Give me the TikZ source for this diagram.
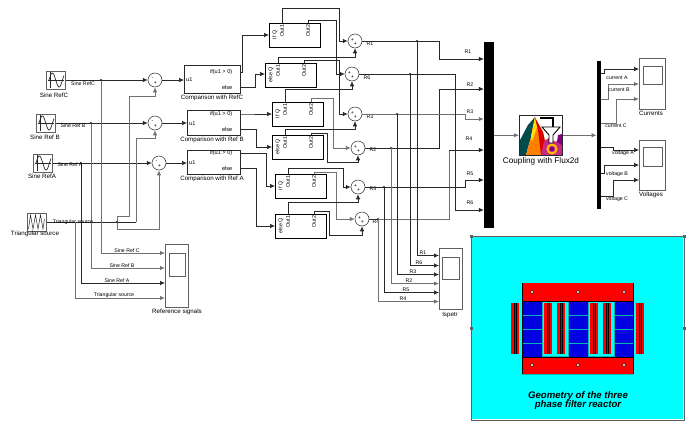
\documentclass[tikz,border=0pt]{standalone}
\usepackage{fontspec}
\setmainfont{Liberation Sans}
\usetikzlibrary{calc, arrows.meta}
\definecolor{sigdark}{HTML}{282828}
\definecolor{siggray}{HTML}{707070}
\definecolor{blockedge}{HTML}{606060}
\definecolor{coreblue}{HTML}{0000E0}
\definecolor{corered}{HTML}{FF0000}
\definecolor{coilred}{HTML}{C00000}
\definecolor{bgcyan}{HTML}{00FFFF}
\definecolor{edgeteal}{HTML}{00B8B8}

\begin{document}
\begin{tikzpicture}[
    x=1pt, y=-1pt,
    >={Latex[length=5pt, width=4.5pt]},
    sig/.style={line width=0.7pt, sigdark},
    sigg/.style={line width=0.9pt, siggray},
    plainblock/.style={draw=sigdark, line width=0.5pt, fill=white, inner sep=0pt, anchor=north west},
    scopeblock/.style={draw=blockedge, line width=0.7pt, fill=white, inner sep=0pt, anchor=north west},
    srcblock/.style={draw=blockedge, line width=1pt, fill=white, inner sep=0pt, minimum width=19pt, minimum height=18pt},
    ssblock/.style={draw=black, line width=1.3pt, fill=white, inner sep=0pt, anchor=north west, minimum width=51pt, minimum height=24pt},
    sumblock/.style={circle, draw=sigdark, line width=0.5pt, fill=white, inner sep=0pt, minimum size=14pt},
    busbar/.style={fill=black, inner sep=0pt},
    lbl/.style={font=\fontsize{5.2}{6}\selectfont, inner sep=0pt},
    blk/.style={font=\fontsize{5.6}{6}\selectfont, inner sep=0pt},
    captxt/.style={font=\fontsize{6.2}{7}\selectfont, inner sep=0pt},
    vtxt/.style={font=\fontsize{5.4}{6}\selectfont, inner sep=0pt, rotate=90},
    jdot/.style={circle, fill=sigdark, inner sep=0pt, minimum size=2.4pt}
]
\useasboundingbox (0,0) rectangle (691,421);

% Sine sources
\foreach \n/\x/\y/\capt/\cx/\cy in {C/56/80/Sine RefC/54/95, B/46/123/Sine Ref B/45/137, A/43/163/Sine RefA/42/176}{
    \node[srcblock] (src\n) at (\x,\y) {};
    \node[captxt] (src\n cap) at (\cx,\cy) {\capt};
    \begin{scope}[shift={(src\n.center)}]
        \draw[line width=0.4pt, sigdark] (-6,-8) -- (-6,8) (-8,0) -- (8,0);
        \draw[line width=0.7pt, sigdark, domain=0:400, samples=30, variable=\t] plot ({\t/400*15-7},{-7*sin(\t)});
    \end{scope}
}

% Triangular source
\node[srcblock] (srcT) at (36.5,222) {};
\node[captxt] (srcTcap) at (35,234) {Triangular source};
\draw[line width=0.5pt, sigdark, shift={(srcT.center)}] (-8,7) -- (-6,-7) -- (-3.5,7) -- (-1,-7) -- (1.5,7) -- (4,-7) -- (6.5,7) -- (8,-3);

% Sum blocks
\foreach \n/\x/\y/\s in {C/155/80/-, B/155/123/-, A/159/163/-, R1/355/41/+, R6/352/74/+, R3/355/114/+, R2/358/148/+, R5/358/187/+, R4/362/219/+}{
    \node[sumblock] (sum\n) at (\x,\y) {};
    \node[lbl] (sign\n a) at ([shift={(-2.5,-1.5)}]sum\n.center) {\s};
    \node[lbl] (sign\n b) at ([shift={(0.5,3)}]sum\n.center) {+};
}

% Comparison blocks
\foreach \n/\x/\y/\w/\h/\capt in {C/184/79/56/28/Comparison with RefC, B/187/122.5/53/25/Comparison with Ref B, A/187/162/53/24/Comparison with Ref A}{
    \node[plainblock, anchor=west, minimum width=\w pt, minimum height=\h pt] (cmp\n) at (\x,\y) {};
    \node[blk, anchor=west] (cmp\n u) at ([shift={(2,1)}]cmp\n.west) {u1};
    \node[blk, anchor=east] (cmp\n if) at ([shift={(-8,\h/2-21)}]cmp\n.east) {if(u1 > 0)};
    \node[blk, anchor=east] (cmp\n else) at ([shift={(-8,\h/2-6)}]cmp\n.east) {else};
    \node[captxt] (cmp\n cap) at (212,{\y+\h/2+5}) {\capt};
}

% Enabled subsystems
\foreach \n/\x/\y/\txt in {A/269/23/If Q, B/265/63/else Q, D/272/102/If Q, E/272/135/else Q, F/275/174/If Q, G/275/214/else Q}{
    \node[ssblock] (ss\n) at (\x,\y) {};
    \node[vtxt] (ss\n in) at (\x+6,\y+12) {\txt};
    \node[vtxt, anchor=east] (ss\n o) at (\x+13,\y+1.5) {Out1};
    \node[vtxt, anchor=east] (ss\n p) at (\x+39,\y+1.5) {Out2};
}

% Reference signals from the sources to the sums
\coordinate (jC) at (101,80);
\coordinate (jB) at (91,123);
\coordinate (jA) at (81,163);
\coordinate (jT) at (117,222);
\coordinate (jS) at (75,222);
\draw[sig, ->] (srcC.east) -- (sumC.west);
\draw[sig, ->] (srcB.east) -- (sumB.west);
\draw[sig, ->] (srcA.east) -- (sumA.west);
\draw[sig] (srcT.east) -- (136,222);
\draw[sigg, ->] (136,222) |- (sumB.south |- 0,138) -- (sumB.south);
\draw[sigg, ->] (jT) |- (129,216) |- (sumC.south |- 0,96) -- (sumC.south);
\draw[sigg, ->] (jT) |- (sumA.south |- 0,229) -- (sumA.south);
\foreach \n in {C, B, A}{
    \draw[sig, ->] (sum\n.east) -- (sum\n.east -| cmp\n.west);
}

% Scope of the reference signals
\node[scopeblock, minimum width=23pt, minimum height=63pt] (scopeRef) at (165,244) {};
\node[scopeblock, minimum width=16pt, minimum height=23pt] (scopeRefIn) at (169,253) {};
\node[captxt] (scopeRefCap) at (177,312) {Reference signals};
\draw[sigg, ->] (jC) |- (scopeRef.west |- 0,253);
\draw[sigg, ->] (jB) |- (scopeRef.west |- 0,268);
\draw[sig, ->] (jA) |- (scopeRef.west |- 0,283);
\draw[sigg, ->] (jS) |- (scopeRef.west |- 0,298);
\foreach \c in {jC, jB, jA, jT}{
    \node[jdot] at (\c) {};
}

% Labels on the signals
\node[lbl] (lC) at (83,84) {Sine RefC};
\node[lbl] (lB) at (73,126) {Sine Ref B};
\node[lbl] (lA) at (70,165) {Sine Ref A};
\node[lbl] (lT) at (73,222) {Triangular source};
\node[lbl] (lC2) at (127,250.5) {Sine Ref C};
\node[lbl] (lB2) at (122,265.5) {Sine Ref B};
\node[lbl] (lA2) at (117,280.5) {Sine Ref A};
\node[lbl] (lT2) at (114,295.5) {Triangular source};

% Comparison to subsystem
\draw[sig, ->] (cmpC.east |- cmpCif) -- ++(2,0) |- (ssA.west |- ssAin);
\draw[sig, ->] (cmpC.east |- cmpCelse) -| (255,74) -- (ssB.west |- 0,74);
\draw[sig, ->] (cmpB.east |- cmpBif) -- ++(2,0) |- (ssD.west |- ssDin);
\draw[sig, ->] (cmpB.east |- cmpBelse) -| (256,147) -- (ssE.west |- 0,147);
\draw[sig, ->] (cmpA.east |- cmpAif) -| (266,186) -- (ssF.west |- 0,186);
\draw[sig, ->] (cmpA.east |- cmpAelse) -| (256,226) -- (ssG.west |- 0,226);

% Subsystem to sum
\draw[sig, ->] (ssAo.east |- ssA.north) |- (339,8) |- (sumR1.west);
\draw[sig, ->] (ssAp.east |- ssA.north) |- (336,20) |- (sumR6.west);
\draw[sig, ->] (ssBo.east |- ssB.north) |- (sumR1.south |- 0,57) -- (sumR1.south);
\draw[sig, ->] (ssBp.east |- ssB.north) |- (339,60) |- (sumR3.west);
\draw[sig, ->] (ssDo.east |- ssD.north) |- (sumR6.south |- 0,89) -- (sumR6.south);
\draw[sigg, ->] (ssDp.east |- ssD.north) |- (333,98) |- (sumR2.west);
\draw[sig, ->] (ssEo.east |- ssE.north) |- (sumR3.south |- 0,129) -- (sumR3.south);
\draw[sig, ->] (ssEp.east |- ssE.north) |- (327,133) |- (sumR2.south |- 0,162) -- (sumR2.south);
\draw[sig, ->] (ssFo.east |- ssF.north) |- (343,168) |- (sumR5.west);
\draw[sigg, ->] (ssFp.east |- ssF.north) |- (336,172) |- (sumR4.west);
\draw[sig, ->] (ssGo.east |- ssG.north) |- (sumR5.south |- 0,202) -- (sumR5.south);
\draw[sig, ->] (ssGp.east |- ssG.north) |- (329,211) |- (sumR4.south |- 0,235) -- (sumR4.south);

% Labels beside the sums
\foreach \n/\x/\y/\l in {a/370/44/R1, b/367/78/R6, c/370/117/R3, d/373/150/R2, e/373/189/R5, f/376/222/R4}{
    \node[lbl] (lab\n) at (\x,\y) {\l};
}

% Black bus with the six phases
\node[busbar, minimum width=10pt, minimum height=186pt] (busR) at (489,135) {};
\draw[sig, ->] (sumR1.east) -| (439,59) -- (busR.west |- 0,59);
\draw[sig, ->] (sumR2.east) -| (439,89) -- (busR.west |- 0,89);
\draw[sigg, ->] (sumR3.east) -| (465,119) -- (busR.west |- 0,119);
\draw[sig] (sumR4.east) -- (378,219);
\draw[sigg] (378,219) -| (449,150);
\draw[sig, ->] (449,150) -- (busR.west |- 0,150);
\draw[sig, ->] (sumR5.east) -| (465,180) -- (busR.west |- 0,180);
\draw[sig, ->] (sumR6.east) -| (455,210) -- (busR.west |- 0,210);
\foreach \n/\x/\y/\l in {a/468/52/R1, b/470/85/R2, c/470/112/R3, d/469/139/R4, e/470/174/R5, f/470/203/R6}{
    \node[lbl] (bus\n) at (\x,\y) {\l};
}

% Scope of the phases
\node[scopeblock, minimum width=23pt, minimum height=61pt] (scopeIn) at (439,248) {};
\node[scopeblock, minimum width=17pt, minimum height=22pt] (scopeInIn) at (442,257) {};
\node[captxt] (scopeInCap) at (450,315) {Ispetr};
\foreach \n/\x/\y/\g/\l/\lx/\ly in {R1/417/41/sig/R1/423/253, R6/410/74/sig/R6/419/263, R3/397/114/sig/R3/413/272, R2/391/148/sigg/R2/409/281, R5/384/187/sig/R5/406/290, R4/378/219/sigg/R4/403/299}{
    \coordinate (t\n) at (\x,\y);
    \node[jdot] at (t\n) {};
    \node[lbl] (s\n) at (\lx,\ly) {\l};
    \draw[\g, ->] (t\n) |- (scopeIn.west |- 0,\ly+2.5);
}

% Coupling block
\node[plainblock, minimum width=43pt, minimum height=40pt] (flux) at (519,115) {};
\begin{scope}
    \clip (flux.north west) rectangle (flux.south east);
    \fill[teal!60!black] (519,155) -- (519,142) -- (528,125) -- (535,117) -- (531,137) -- (526,155) -- cycle;
    \fill[orange] (535,117) -- (543,132) -- (548,155) -- (526,155) -- (531,137) -- cycle;
    \fill[yellow!80!orange] (535,117) -- (537,127) -- (532,142) -- (531,137) -- cycle;
    \fill[red!85!black] (535,118) -- (543,132) -- (548,155) -- (541,155) -- (538,130) -- cycle;
    \fill[magenta!80!black] (541,155) -- (544,141) -- (549,138) -- (556,142) -- (562,134) -- (562,155) -- cycle;
    \fill[violet] (558,135) -- (562,134) -- (562,145) -- (557,142) -- cycle;
    \draw[orange!50!yellow, line width=2pt] (552,149) circle (4.5pt);
    \fill[violet] (552,149) circle (2.2pt);
    \draw[line width=1.6pt] (540,118) -- (553,118) -- (553,127);
    \draw[line width=0.9pt, fill=white] (542,127) -- (560,127) -- (553,135) -- (553,143) -- (549,143) -- (549,135) -- cycle;
\end{scope}
\draw[sigdark, line width=0.5pt] (flux.north west) rectangle (flux.south east);
\node[font=\fontsize{8.2}{9}\selectfont, inner sep=0pt] (fluxCap) at (541,161) {Coupling with Flux2d};
\draw[sigg, ->] (busR.east |- flux.west) -- (flux.west);

% Output bus and its scopes
\node[busbar, minimum width=4.5pt, minimum height=148pt] (busV) at (599,135) {};
\draw[sigg, ->] (flux.east) -- (busV.west |- flux.east);
\node[scopeblock, minimum width=26pt, minimum height=51pt] (scopeI) at (639,58) {};
\node[scopeblock, minimum width=19pt, minimum height=18pt] (scopeIIn) at (643,66) {};
\node[captxt] (scopeICap) at (651,113) {Currents};
\node[scopeblock, minimum width=26pt, minimum height=50pt] (scopeU) at (639,140) {};
\node[scopeblock, minimum width=19pt, minimum height=19pt] (scopeUIn) at (643,147) {};
\node[captxt] (scopeUCap) at (651,195) {Voltages};
\draw[sig, ->] (busV.east |- 0,73) -| (604,69) -- (scopeI.west |- 0,69);
\draw[sigg, ->] (busV.east |- 0,99) -| (608,84) -- (scopeI.west |- 0,84);
\draw[sigg, ->] (busV.east |- 0,123) -| (616,99) -- (scopeI.west |- 0,99);
\draw[sig, ->] (busV.east |- 0,147) -| (613,150) -- (scopeU.west |- 0,150);
\draw[sig, ->] (busV.east |- 0,173) -| (604,165) -- (scopeU.west |- 0,165);
\draw[sig, ->] (busV.east |- 0,196) -| (613,180) -- (scopeU.west |- 0,180);
\foreach \n/\x/\y/\l in {a/617/78/current A, b/619/90/current B, c/616/126/current C, d/623/153/voltage A, e/617/174/voltage B, f/617/199/voltage C}{
    \node[lbl] (out\n) at (\x,\y) {\l};
}

% Geometry picture
\fill[bgcyan] (472,237) rectangle (683,419);
\draw[blockedge, line width=1pt] (471,236) rectangle (684,420);
\foreach \x/\y in {471/236, 684/236, 471/328, 684/328}{
    \fill[blockedge] (\x-1.5,\y-1.5) rectangle (\x+1.5,\y+1.5);
}

% Yokes
\fill[corered] (522,283) rectangle (633,301);
\fill[corered] (522,357) rectangle (633,374);
\draw[edgeteal, line width=0.7pt] (522,374.5) -- (633,374.5);
\foreach \x in {532, 578, 624}{
    \foreach \y in {292, 365}{
        \fill[white] (\x,\y) circle (1.6pt);
        \draw[black, line width=0.3pt] (\x,\y) circle (1.6pt);
    }
}

% Columns
\foreach \x in {522, 568, 614}{
    \fill[coreblue] (\x,301) rectangle (\x+19.5,357);
    \foreach \y in {315, 329, 343}{
        \draw[edgeteal, line width=1pt] (\x,\y) -- (\x+19.5,\y);
    }
}
\draw[black, line width=0.8pt] (522,283) -- (522,374) (522,301) -- (633,301) (522,357) -- (633,357) (633,283) -- (633,374);
\foreach \x in {542, 588}{
    \draw[edgeteal, line width=1pt] (\x,302) -- (\x,356.5) -- (\x+26,356.5) -- (\x+26,302);
}

% Coils
\foreach \x in {511, 544, 557, 590, 603, 636}{
    \fill[corered] (\x,303) rectangle (\x+8,354);
    \fill[coilred] (\x+3,303) rectangle (\x+5.5,354);
    \draw[black, line width=0.3pt] (\x+3,303) -- (\x+3,354) (\x+5.5,303) -- (\x+5.5,354);
}

\node[font=\fontsize{9.6}{9.5}\selectfont\bfseries\itshape, inner sep=0pt, align=center] (geomCap) at (578,400.5) {Geometry of the three\\ phase filter reactor};

\end{tikzpicture}
\end{document}
